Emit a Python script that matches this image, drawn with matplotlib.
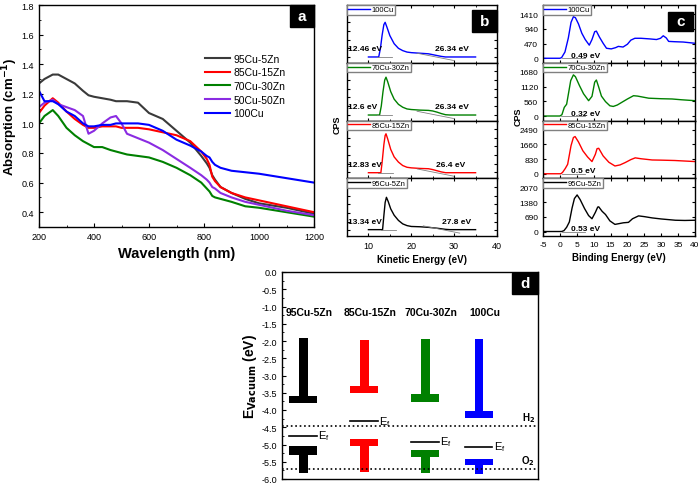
import numpy as np
import matplotlib
matplotlib.use("Agg")
import matplotlib.pyplot as plt
from matplotlib.patches import Rectangle
from matplotlib.ticker import MultipleLocator, NullFormatter

plt.rcParams['font.family'] = ['Liberation Sans', 'DejaVu Sans']
plt.rcParams['xtick.direction'] = 'in'
plt.rcParams['ytick.direction'] = 'in'
plt.rcParams['axes.linewidth'] = 1.0
plt.rcParams['axes.unicode_minus'] = False

# ---------------- panel a : absorption spectra ----------------
wl = [200, 220, 250, 270, 300, 330, 360, 380, 400, 430, 460, 480, 500, 520, 560,
      600, 650, 700, 750, 790, 810, 820, 830, 840, 860, 900, 950, 1000, 1100, 1200]
abs_95 = [1.27, 1.30, 1.33, 1.33, 1.30, 1.27, 1.22, 1.19, 1.18, 1.17, 1.16, 1.15, 1.15, 1.15, 1.14,
          1.07, 1.03, 0.95, 0.87, 0.78, 0.73, 0.70, 0.65, 0.62, 0.57, 0.53, 0.49, 0.46, 0.43, 0.39]
abs_85 = [1.07, 1.12, 1.17, 1.14, 1.08, 1.03, 0.99, 0.97, 0.97, 0.98, 0.98, 0.98, 0.97, 0.97, 0.97,
          0.96, 0.94, 0.92, 0.88, 0.81, 0.76, 0.72, 0.64, 0.61, 0.57, 0.53, 0.50, 0.48, 0.44, 0.40]
abs_70 = [1.00, 1.05, 1.09, 1.05, 0.97, 0.92, 0.88, 0.86, 0.84, 0.84, 0.82, 0.81, 0.80, 0.79, 0.78,
          0.77, 0.74, 0.70, 0.65, 0.60, 0.56, 0.54, 0.51, 0.50, 0.49, 0.47, 0.44, 0.43, 0.40, 0.37]
abs_50 = [1.11, 1.14, 1.16, 1.13, 1.11, 1.09, 1.05, 0.93, 0.95, 1.00, 1.04, 1.05, 1.00, 0.93, 0.90,
          0.87, 0.82, 0.76, 0.70, 0.65, 0.62, 0.60, 0.57, 0.56, 0.53, 0.50, 0.47, 0.45, 0.41, 0.38]
abs_100 = [1.22, 1.15, 1.15, 1.13, 1.08, 1.05, 1.00, 0.98, 0.98, 0.99, 0.99, 1.00, 1.00, 1.00, 1.00,
           0.99, 0.95, 0.89, 0.85, 0.81, 0.78, 0.77, 0.74, 0.72, 0.70, 0.68, 0.67, 0.66, 0.63, 0.60]
a_labels = ["95Cu-5Zn", "85Cu-15Zn", "70Cu-30Zn", "50Cu-50Zn", "100Cu"]
a_colors = ["#3a3a3a", "red", "green", "#8a2be2", "blue"]

# ---------------- panel b : UPS cut-off (kinetic energy) ----------------
b_names = ["100Cu", "70Cu-30Zn", "85Cu-15Zn", "95Cu-5Zn"]
b_colors = ["blue", "green", "red", "black"]
b_ke = [
    [10, 12.4, 12.8, 13.2, 13.6, 13.9, 14.3, 15, 16, 17, 18, 19, 20, 22, 24, 25, 26, 27, 28, 29, 35],
    [10, 12.6, 13.0, 13.4, 13.8, 14.1, 14.5, 15.2, 16, 17, 18, 19, 20, 22, 24, 25, 26, 27, 28, 29, 35],
    [10, 12.9, 13.2, 13.6, 13.9, 14.1, 14.5, 15.2, 16, 17, 18, 19, 20, 22, 24, 25, 26, 27, 28, 35],
    [10, 13.3, 13.6, 13.9, 14.2, 14.6, 15.2, 16, 17, 18, 19, 20, 22, 24, 26, 27, 28, 29, 30, 35],
]
b_cps = [
    [0.10, 0.10, 0.25, 0.48, 0.66, 0.70, 0.62, 0.47, 0.33, 0.25, 0.21, 0.185, 0.175, 0.165, 0.155, 0.14, 0.125, 0.11, 0.10, 0.10, 0.10],
    [0.095, 0.095, 0.25, 0.50, 0.70, 0.75, 0.67, 0.50, 0.37, 0.28, 0.23, 0.20, 0.19, 0.18, 0.175, 0.165, 0.145, 0.12, 0.10, 0.095, 0.095],
    [0.096, 0.096, 0.28, 0.58, 0.74, 0.77, 0.68, 0.50, 0.37, 0.28, 0.22, 0.19, 0.18, 0.17, 0.165, 0.15, 0.13, 0.11, 0.096, 0.096],
    [0.11, 0.11, 0.35, 0.58, 0.67, 0.60, 0.47, 0.36, 0.27, 0.21, 0.18, 0.165, 0.16, 0.15, 0.135, 0.125, 0.115, 0.11, 0.11, 0.11],
]
b_onset = ["12.46 eV", "12.6 eV", "12.83 eV", "13.34 eV"]
b_cutoff = ["26.34 eV", "26.34 eV", "26.4 eV", "27.8 eV"]
b_onset_val = [12.46, 12.6, 12.83, 13.34]
b_cutoff_val = [26.34, 26.34, 26.4, 27.8]

# ---------------- panel c : valence band (binding energy) ----------------
c_be = [
    [-5, 0, 0.5, 1.5, 2.5, 3.3, 4.0, 4.6, 5.5, 6.5, 7.5, 8.7, 9.5, 10.3, 10.8, 11.7, 12.8, 13.8, 15.2,
     16.5, 17.3, 18.7, 20, 21, 22.2, 24, 26.6, 28.6, 29.8, 30.6, 31.5, 32.2, 34, 36.5, 40],
    [-5, 0, 0.6, 1.3, 2.0, 2.6, 3.2, 4.0, 4.6, 5.8, 7.0, 8.5, 9.5, 10.3, 10.8, 11.5, 12.3, 13.5, 14.8,
     15.8, 17, 18.3, 20, 21.8, 23, 26.3, 30, 33.2, 36, 40],
    [-5, 0.3, 0.8, 1.6, 2.3, 3.3, 4.0, 4.5, 5.5, 6.8, 8.2, 9.5, 10.5, 11.0, 11.5, 12.8, 14.5, 16.3,
     17.8, 19.3, 21, 22.3, 24, 27.3, 30, 34, 37, 40],
    [-5, 0.5, 1.2, 2.0, 2.8, 3.6, 4.3, 5.1, 6.0, 7.3, 8.5, 9.5, 10.5, 11.2, 11.5, 12.5, 13.5, 14.8,
     16.3, 17.5, 18.8, 20.3, 21.5, 23.3, 25, 27.3, 30, 34.2, 37, 40],
]
c_cps = [
    [0, 0, 20, 200, 650, 1150, 1330, 1300, 1100, 800, 600, 420, 600, 850, 870, 680, 480, 320, 300,
     340, 380, 360, 450, 580, 640, 640, 620, 600, 640, 720, 650, 540, 530, 520, 480],
    [0, 0, 50, 330, 450, 900, 1350, 1570, 1500, 1160, 850, 585, 750, 1290, 1375, 1100, 760, 550, 390,
     365, 420, 520, 650, 775, 760, 680, 660, 650, 620, 585],
    [0, 0, 80, 300, 535, 1590, 2050, 2105, 1800, 1300, 950, 690, 1100, 1420, 1440, 1010, 650, 440,
     500, 630, 800, 900, 850, 780, 770, 750, 720, 690],
    [0, 0, 40, 200, 450, 1100, 1550, 1720, 1500, 1080, 750, 600, 900, 1150, 1160, 950, 800, 500,
     335, 370, 410, 430, 600, 735, 700, 640, 590, 530, 520, 530],
]
c_top_tick = [1410, 1680, 2490, 2070]
c_onset = ["0.49 eV", "0.32 eV", "0.5 eV", "0.53 eV"]
c_onset_val = [0.49, 0.32, 0.5, 0.53]

# ---------------- panel d : band positions ----------------
d_names = ["95Cu-5Zn", "85Cu-15Zn", "70Cu-30Zn", "100Cu"]
d_colors = ["black", "red", "green", "blue"]
d_pos = [0, 1.0, 2.0, 2.88]
cb_stem_top = [-1.91, -1.98, -1.93, -1.93]
cb_bar = [(-3.58, -3.80), (-3.29, -3.51), (-3.55, -3.77), (-4.03, -4.23)]
vb_bar = [(-5.05, -5.30), (-4.83, -5.05), (-5.15, -5.36), (-5.41, -5.60)]
vb_stem_bottom = [-5.82, -5.80, -5.84, -5.86]
fermi = [-4.75, -4.33, -4.93, -5.08]
h2_level = -4.47
o2_level = -5.70

W, H = 700, 485
fig = plt.figure(figsize=(7, 4.85), dpi=100)


def add_px_axes(l, t, r, b):
    return fig.add_axes([l / W, 1 - b / H, (r - l) / W, (b - t) / H])


def letter_box(letter, l, t, r, b):
    fig.add_artist(Rectangle((l / W, 1 - b / H), (r - l) / W, (b - t) / H,
                             transform=fig.transFigure, color='black', zorder=10))
    fig.text((l + r) / 2 / W, 1 - (t + b) / 2 / H, letter, color='white', fontsize=11,
             fontweight='bold', ha='center', va='center', zorder=11)


# ---- a
ax = add_px_axes(39, 6, 314, 228)
for y, lab, col in zip([abs_95, abs_85, abs_70, abs_50, abs_100], a_labels, a_colors):
    ax.plot(wl, y, color=col, lw=1.5, label=lab)
ax.set_xlim(200, 1200)
ax.set_ylim(0.3, 1.8)
ax.xaxis.set_major_locator(MultipleLocator(200))
ax.xaxis.set_minor_locator(MultipleLocator(100))
ax.yaxis.set_minor_locator(MultipleLocator(0.1))
ax.set_yticks([0.4, 0.6, 0.8, 1.0, 1.2, 1.4, 1.6, 1.8])
ax.tick_params(labelsize=6.5, length=3)
ax.tick_params(which='minor', length=1.5)
ax.set_xlabel("Wavelength (nm)", fontsize=10.5, fontweight='bold', labelpad=4)
ax.set_ylabel("Absorption (cm$^{\\mathbf{-1}}$)", fontsize=9.5, fontweight='bold', labelpad=1)
ax.legend(loc='upper left', bbox_to_anchor=(0.59, 0.80), frameon=False, fontsize=7.5,
          handlelength=2.4, labelspacing=0.35, handletextpad=0.3, borderaxespad=0)
letter_box("a", 290, 6, 314, 28)

# ---- b
top, bot = 6, 237
step = (bot - top) / 4
for i in range(4):
    ax = add_px_axes(347, top + i * step, 497, top + (i + 1) * step)
    ax.plot(b_ke[i], b_cps[i], color=b_colors[i], lw=1.0, label=b_names[i])
    base = b_cps[i][0]
    ax.plot([b_onset_val[i] - 0.5, b_onset_val[i] + 3], [base, base], color='grey', lw=0.6)
    ax.plot([b_cutoff_val[i] - 5, b_cutoff_val[i] + 3.5], [base + 0.065, base - 0.06],
            color='grey', lw=0.6)
    ax.set_xlim(5, 40)
    ax.set_ylim(0, 1)
    ax.xaxis.set_major_locator(MultipleLocator(10))
    ax.xaxis.set_minor_locator(MultipleLocator(5))
    ax.set_yticks(np.arange(0.1, 1.0, 0.15))
    ax.yaxis.set_major_formatter(NullFormatter())
    ax.tick_params(axis='y', left=True, right=True, length=2)
    ax.tick_params(axis='x', top=True, length=2.5, labelsize=6.5)
    ax.tick_params(axis='x', which='minor', top=True, length=1.5)
    if i < 3:
        ax.xaxis.set_major_formatter(NullFormatter())
    ax.text(0.005, 0.22, b_onset[i], transform=ax.transAxes, fontsize=6, fontweight='bold')
    ax.text((b_cutoff_val[i] - 5) / 35 - 0.02, 0.22, b_cutoff[i], transform=ax.transAxes,
            fontsize=6, fontweight='bold')
    ax.legend(loc='upper left', bbox_to_anchor=(0, 1), borderaxespad=0, fontsize=5.5,
              frameon=True, fancybox=False, edgecolor='grey', framealpha=1,
              handlelength=2.8, borderpad=0.15, handletextpad=0.3)
    if i == 3:
        ax.set_xlabel("Kinetic Energy (eV)", fontsize=7, fontweight='bold', labelpad=3)
fig.text(337 / W, 1 - 125 / H, "CPS", rotation=90, fontsize=6.5, fontweight='bold',
         ha='center', va='center')
letter_box("b", 472, 11, 497, 33)

# ---- c
for i in range(4):
    ax = add_px_axes(543, top + i * step, 695, top + (i + 1) * step)
    T = c_top_tick[i]
    ax.plot(c_be[i], c_cps[i], color=b_colors[i], lw=1.0, label=b_names[i])
    ax.plot([c_onset_val[i], c_onset_val[i] + 7], [0, 0], color='grey', lw=0.6)
    ax.set_xlim(-5, 40)
    ax.set_ylim(-0.102 * T, 1.21 * T)
    ax.set_yticks([0, T / 3, 2 * T / 3, T])
    ax.set_yticklabels([str(int(round(v))) for v in [0, T / 3, 2 * T / 3, T]])
    ax.xaxis.set_major_locator(MultipleLocator(5))
    ax.tick_params(axis='y', left=True, right=True, length=2, labelsize=6)
    ax.tick_params(axis='x', top=True, length=2.5, labelsize=6)
    if i < 3:
        ax.xaxis.set_major_formatter(NullFormatter())
    ax.text(0.185, 0.1, c_onset[i], transform=ax.transAxes, fontsize=6, fontweight='bold')
    ax.legend(loc='upper left', bbox_to_anchor=(0, 1), borderaxespad=0, fontsize=5.5,
              frameon=True, fancybox=False, edgecolor='grey', framealpha=1,
              handlelength=2.8, borderpad=0.15, handletextpad=0.3)
    if i == 3:
        ax.set_xlabel("Binding Energy (eV)", fontsize=7, fontweight='bold', labelpad=3)
fig.text(518 / W, 1 - 117 / H, "CPS", rotation=90, fontsize=6.5, fontweight='bold',
         ha='center', va='center')
letter_box("c", 668, 13, 693, 32)

# ---- d
ax = add_px_axes(282, 273, 538, 480)
stem_w = 0.14
bar_w = 0.46
for i in range(4):
    x = d_pos[i]
    c = d_colors[i]
    hi, lo = cb_bar[i]
    ax.bar(x, cb_stem_top[i] - lo, bottom=lo, width=stem_w, color=c)
    ax.bar(x, hi - lo, bottom=lo, width=bar_w, color=c)
    vhi, vlo = vb_bar[i]
    ax.bar(x, vhi - vb_stem_bottom[i], bottom=vb_stem_bottom[i], width=stem_w, color=c)
    ax.bar(x, vhi - vlo, bottom=vlo, width=bar_w, color=c)
    ax.plot([x - 0.23, x + 0.22], [fermi[i], fermi[i]], color='black', lw=1.2)
    ax.text(x + 0.24, fermi[i] + 0.02, "E$_\\mathregular{f}$", fontsize=8, va='center')
    ax.text(x + 0.1, -1.16, d_names[i], fontsize=7.5, fontweight='bold', ha='center', va='center')
ax.axhline(h2_level, color='black', ls=':', lw=1.2)
ax.axhline(o2_level, color='black', ls=':', lw=1.2)
ax.text(3.8, h2_level + 0.05, "H$_\\mathbf{2}$", fontsize=7, fontweight='bold', ha='right', va='bottom')
ax.text(3.8, o2_level + 0.05, "O$_\\mathbf{2}$", fontsize=7, fontweight='bold', ha='right', va='bottom')
ax.set_xlim(-0.35, 3.85)
ax.set_ylim(-6.0, 0.0)
ax.set_xticks([])
ax.yaxis.set_minor_locator(MultipleLocator(0.25))
ax.set_yticks(np.arange(-6.0, 0.01, 0.5))
ax.set_yticklabels(["%.1f" % v for v in np.arange(-6.0, 0.01, 0.5)])
ax.tick_params(axis='y', labelsize=6.5, length=3)
ax.tick_params(axis='y', which='minor', length=1.5)
ax.set_ylabel("E$_{\\mathbf{Vacuum}}$ (eV)", fontsize=10, fontweight='bold', labelpad=2)
letter_box("d", 512, 274, 538, 295)

fig.savefig("out.png", dpi=100)
